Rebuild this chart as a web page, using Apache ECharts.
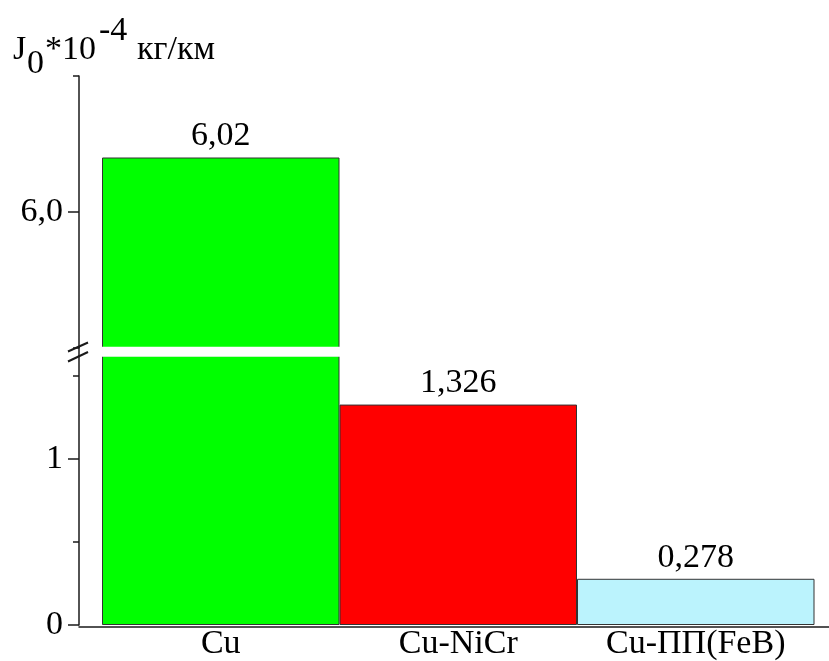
<!DOCTYPE html>
<html>
<head>
<meta charset="utf-8">
<script src="https://cdn.jsdelivr.net/npm/echarts@6/dist/echarts.min.js"></script>
<style>
  html, body { margin: 0; padding: 0; background: #fff; }
</style>
</head>
<body>
<div id="chart" style="width:829px;height:661px;"></div>
<script>
  // data
  var categories = ['Cu', 'Cu-NiCr', 'Cu-ПП(FeB)'];
  var values = [6.02, 1.326, 0.278];
  var barColors = ['#00ff00', '#ff0000', '#bbf3fd'];

  // broken y axis: upper and lower parts
  var upperRange = [5.95, 6.05];
  var upperTicks = [6.0];
  var upperMinor = [5.95, 6.05];
  var lowerRange = [0, 1.62];
  var lowerTicks = [0, 1];
  var lowerMinor = [0.5, 1.5];

  var font = 'Liberation Serif';
  var ink = '#1a1a1a';

  var myChart = echarts.init(document.getElementById('chart'));

  function comma(v) {
    return String(v).replace('.', ',');
  }

  var upperData = values.map(function (v, i) {
    return i === 0 ? { value: v, itemStyle: { color: barColors[i] } } : '-';
  });
  var lowerData = values.map(function (v, i) {
    return { value: v, itemStyle: { color: barColors[i] }, label: { show: i > 0 } };
  });

  var labelStyle = {
    show: true,
    position: 'top',
    distance: 4,
    color: '#000',
    fontFamily: font,
    fontSize: 34,
    formatter: function (p) { return comma(p.value); }
  };

  var tickAxis = function (grid, range, ticks, len, withLine, labelFmt) {
    return {
      type: 'value',
      gridIndex: grid,
      position: 'left',
      offset: 23,
      min: range[0],
      max: range[1],
      splitLine: { show: false },
      axisLine: { show: withLine, lineStyle: { color: ink, width: 1.5 } },
      axisTick: { show: true, length: len, customValues: ticks, lineStyle: { color: ink, width: 1.5 } },
      axisLabel: labelFmt ? {
        show: true,
        customValues: ticks,
        margin: 16,
        color: '#000',
        fontFamily: font,
        fontSize: 34,
        formatter: labelFmt
      } : { show: false }
    };
  };

  var option = {
    animation: false,
    grid: [
      { left: 102, width: 712.5, top: 76, height: 271.7 },
      { left: 102, width: 712.5, top: 355.7, bottom: 34.3 },
      { left: 79, right: 0, top: 355.7, bottom: 34.3 }
    ],
    xAxis: [
      { type: 'category', gridIndex: 0, data: categories, show: false },
      {
        type: 'category', gridIndex: 1, data: categories,
        axisLine: { show: false },
        axisTick: { show: false },
        axisLabel: { margin: 2, color: '#000', fontFamily: font, fontSize: 34 }
      },
      // long baseline that runs from the y axis to the page edge
      {
        type: 'value', gridIndex: 2,
        axisLine: { show: true, lineStyle: { color: ink, width: 1.5 } },
        axisTick: { show: false }, axisLabel: { show: false }, splitLine: { show: false }
      }
    ],
    yAxis: [
      tickAxis(0, upperRange, upperTicks, 11, true, function (v) { return v.toFixed(1).replace('.', ','); }),
      tickAxis(0, upperRange, upperMinor, 6, false, null),
      tickAxis(1, lowerRange, lowerTicks, 11, true, function (v) { return String(Math.round(v)); }),
      tickAxis(1, lowerRange, lowerMinor, 6, false, null),
      { type: 'value', gridIndex: 2, show: false }
    ],
    series: [
      {
        type: 'bar', xAxisIndex: 0, yAxisIndex: 0,
        barWidth: '100%', barCategoryGap: '0%',
        itemStyle: { borderColor: '#333', borderWidth: 1 },
        label: labelStyle,
        data: upperData
      },
      {
        type: 'bar', xAxisIndex: 1, yAxisIndex: 2,
        barWidth: '100%', barCategoryGap: '0%',
        itemStyle: { borderColor: '#333', borderWidth: 1 },
        label: labelStyle,
        data: lowerData
      }
    ],
    graphic: [
      // axis title J0*10^-4 кг/км
      { type: 'text', left: 13, top: 33, style: { text: 'J', font: '34px "Liberation Serif"', fill: '#000' } },
      { type: 'text', left: 27, top: 47, style: { text: '0', font: '34px "Liberation Serif"', fill: '#000' } },
      { type: 'text', left: 45, top: 33, style: { text: '*10', font: '34px "Liberation Serif"', fill: '#000' } },
      { type: 'text', left: 99, top: 14, style: { text: '-4', font: '34px "Liberation Serif"', fill: '#000' } },
      { type: 'text', left: 137, top: 33, style: { text: 'кг/км', font: '34px "Liberation Serif"', fill: '#000' } },
      // white gap that cuts the tall bar at the break
      { type: 'rect', z: 100, shape: { x: 100.5, y: 346.7, width: 240.5, height: 10 }, style: { fill: '#fff' } },
      // axis break marks
      { type: 'line', z: 101, shape: { x1: 79, y1: 346.7, x2: 79, y2: 356.7 }, style: { stroke: ink, lineWidth: 1.5 } },
      { type: 'line', z: 101, shape: { x1: 68, y1: 351.5, x2: 88, y2: 342.5 }, style: { stroke: ink, lineWidth: 2 } },
      { type: 'line', z: 101, shape: { x1: 68, y1: 361.5, x2: 88, y2: 352 }, style: { stroke: ink, lineWidth: 2 } }
    ]
  };

  myChart.setOption(option);
</script>
</body>
</html>
